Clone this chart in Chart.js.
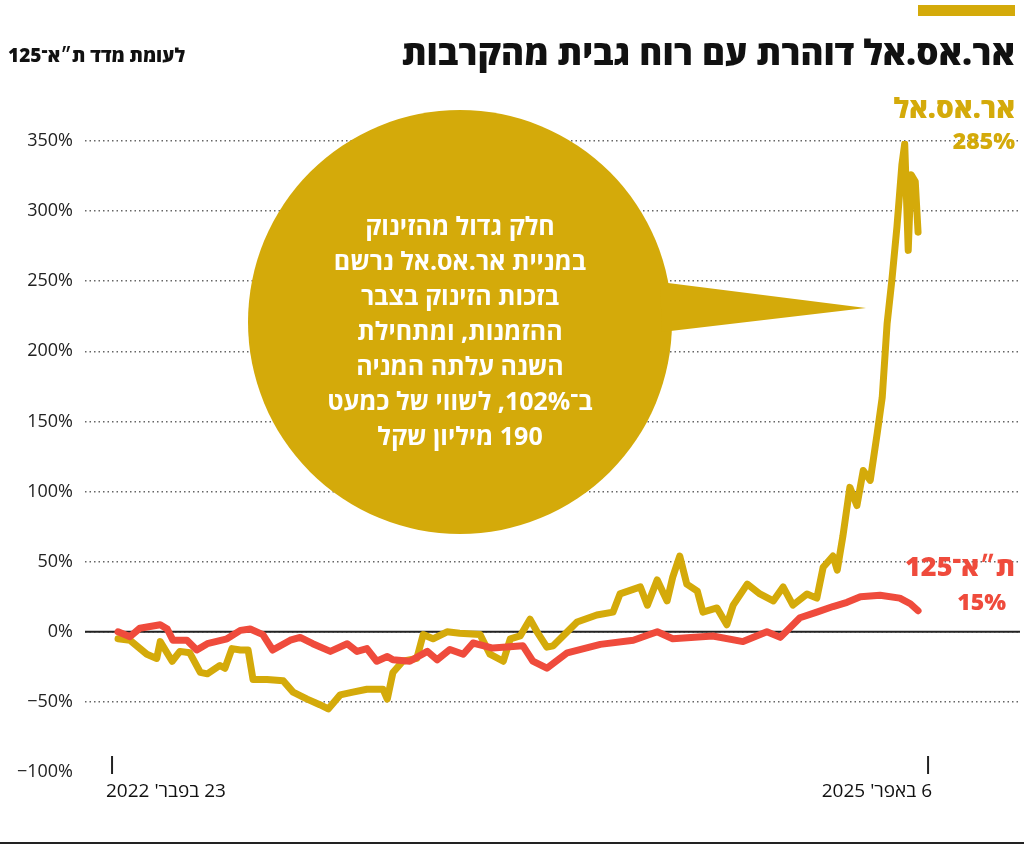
<!DOCTYPE html>
<html lang="he">
<head>
<meta charset="utf-8">
<script src="https://cdn.jsdelivr.net/npm/chart.js@4/dist/chart.umd.min.js"></script>
<style>
  body { margin: 0; background: #fff; font-family: "Open Sans", "Noto Sans", sans-serif; }
  #wrap { position: relative; width: 1024px; height: 848px; overflow: hidden; }
  #c { position: absolute; left: 0; top: 0; }
  .t { position: absolute; white-space: nowrap; }
  .topbar { position: absolute; left: 918px; top: 5px; width: 97px; height: 11px; background: #d4aa0a; }
  .rule { position: absolute; left: 0; top: 842px; width: 1024px; height: 2px; background: #222; }
</style>
</head>
<body>
<div id="wrap">
  <canvas id="c" width="1024" height="848"></canvas>
  <div class="topbar"></div>
  <div class="t" dir="rtl" style="right:9px;top:28px;font-size:35px;font-weight:800;color:#111;">אר.אס.אל דוהרת עם רוח גבית מהקרבות</div>
  <div class="t" dir="rtl" style="left:8px;top:42px;font-size:19px;font-weight:800;color:#111;">לעומת מדד ת״א־125</div>
  <div class="t" dir="rtl" style="right:9px;top:88px;font-size:28px;font-weight:800;color:#d4aa0a;">אר.אס.אל</div>
  <div class="t" style="right:9px;top:124px;font-size:23px;font-weight:800;color:#d4aa0a;">285%</div>
  <div class="t" dir="rtl" style="right:9px;top:547px;font-size:27px;font-weight:800;color:#ef4b3c;">ת״א־125</div>
  <div class="t" style="right:18px;top:585px;font-size:23px;font-weight:800;color:#ef4b3c;">15%</div>
  <div class="t" dir="rtl" style="left:300px;top:208px;width:320px;text-align:center;white-space:normal;font-size:25px;font-weight:700;line-height:35px;color:#fff;">חלק גדול מהזינוק<br>במניית אר.אס.אל נרשם<br>בזכות הזינוק בצבר<br>ההזמנות, ומתחילת<br>השנה עלתה המניה<br>ב־102%, לשווי של כמעט<br>190 מיליון שקל</div>
  <div class="t" dir="rtl" style="left:106px;top:777px;font-size:19px;color:#111;">23 בפבר' 2022</div>
  <div class="t" dir="rtl" style="right:92px;top:777px;font-size:19px;color:#111;">6 באפר' 2025</div>
  <div class="rule"></div>
</div>
<script>
// days since 23 Feb 2022
const rslDays = [0,17,41,55,60,77,88,102,117,127,145,152,162,174,185,192,212,235,249,269,287,299,316,334,354,377,383,391,405,425,434,448,468,486,515,529,548,558,572,586,596,610,619,653,681,704,714,743,753,767,781,789,799,809,824,832,852,866,875,895,913,932,946,960,980,994,1003,1017,1023,1031,1041,1051,1060,1070,1080,1087,1094,1101,1108,1115,1119,1124,1128,1134,1138];
const rslValues = [-5,-6,-16,-19,-7,-21,-14,-15,-29,-30,-24,-26,-12,-13,-13,-34,-34,-35,-43,-48,-52,-55,-45,-43,-41,-41,-48,-29,-21,-19,-2,-5,0,-1,-2,-16,-21,-5,-3,9,0,-11,-10,7,12,14,27,32,19,37,22,39,54,34,29,14,17,5,19,34,27,22,32,19,27,24,46,54,44,68,103,90,115,108,142,167,220,252,289,333,348,272,326,321,285];
const taDays = [0,17,31,60,70,78,98,112,127,155,174,188,206,220,245,259,277,302,326,340,354,368,383,391,415,440,454,472,491,505,533,576,590,610,639,686,733,767,789,846,889,923,942,970,994,1017,1037,1056,1084,1112,1127,1138];
const taValues = [0,-3.5,2.5,5,2,-6,-6,-13,-8.5,-5,1,2,-2,-13,-6,-4,-8.5,-14,-8.5,-14,-12,-21,-17.6,-20,-21,-14,-20,-12.6,-16,-8,-11.6,-10,-21,-26,-15,-9,-6,0,-5,-3,-7,0,-4,10,14,18,21,25,26,24,20,15];
const yTicks = [350,300,250,200,150,100,50,0,-50,-100];
const endDay = 1138;

const GOLD = "#d4aa0a", RED = "#ef4b3c";
const pts = (xs, ys) => xs.map((x, i) => ({ x, y: ys[i] }));

const bubble = {
  id: "bubble",
  beforeDatasetsDraw(chart) {
    const c = chart.ctx;
    c.save();
    c.fillStyle = GOLD;
    c.beginPath();
    c.arc(460, 322, 212, 0, Math.PI * 2);
    c.fill();
    c.beginPath();
    c.moveTo(660, 282);
    c.lineTo(866, 308);
    c.lineTo(662, 332);
    c.closePath();
    c.fill();
    // zero line and date ticks
    const x = chart.scales.x, y = chart.scales.y;
    c.strokeStyle = "#222"; c.lineWidth = 2;
    c.beginPath();
    c.moveTo(chart.chartArea.left, y.getPixelForValue(0));
    c.lineTo(chart.chartArea.right, y.getPixelForValue(0));
    c.stroke();
    [0, endDay].forEach((d, i) => {
      const px = x.getPixelForValue(d) + (i ? 10 : -6);
      c.beginPath(); c.moveTo(px, 756); c.lineTo(px, 774); c.stroke();
    });
    c.restore();
  }
};

new Chart(document.getElementById("c"), {
  type: "line",
  data: {
    datasets: [
      { data: pts(taDays, taValues), borderColor: RED, borderWidth: 7 },
      { data: pts(rslDays, rslValues), borderColor: GOLD, borderWidth: 7 }
    ]
  },
  options: {
    responsive: false,
    animation: false,
    events: [],
    layout: { padding: { left: 0, right: 4, top: 141, bottom: 76 } },
    elements: { point: { radius: 0 }, line: { tension: 0, borderCapStyle: "round", borderJoinStyle: "round" } },
    plugins: { legend: { display: false }, tooltip: { enabled: false } },
    scales: {
      x: { type: "linear", min: -47, max: 1283, display: false },
      y: {
        min: -100, max: 350,
        afterBuildTicks: s => { s.ticks = yTicks.map(v => ({ value: v })); },
        afterFit: s => { s.width = 85; },
        border: { display: false, dash: [1.5, 3] },
        grid: {
          color: ctx => ctx.tick && ctx.tick.value === -100 ? "rgba(0,0,0,0)" : "#666",
          lineWidth: 1.5, drawTicks: false
        },
        ticks: { color: "#222", font: { size: 18, family: "Open Sans" }, padding: 12, callback: v => (v < 0 ? "−" + (-v) : v) + "%" }
      }
    }
  },
  plugins: [bubble]
});
</script>
</body>
</html>
